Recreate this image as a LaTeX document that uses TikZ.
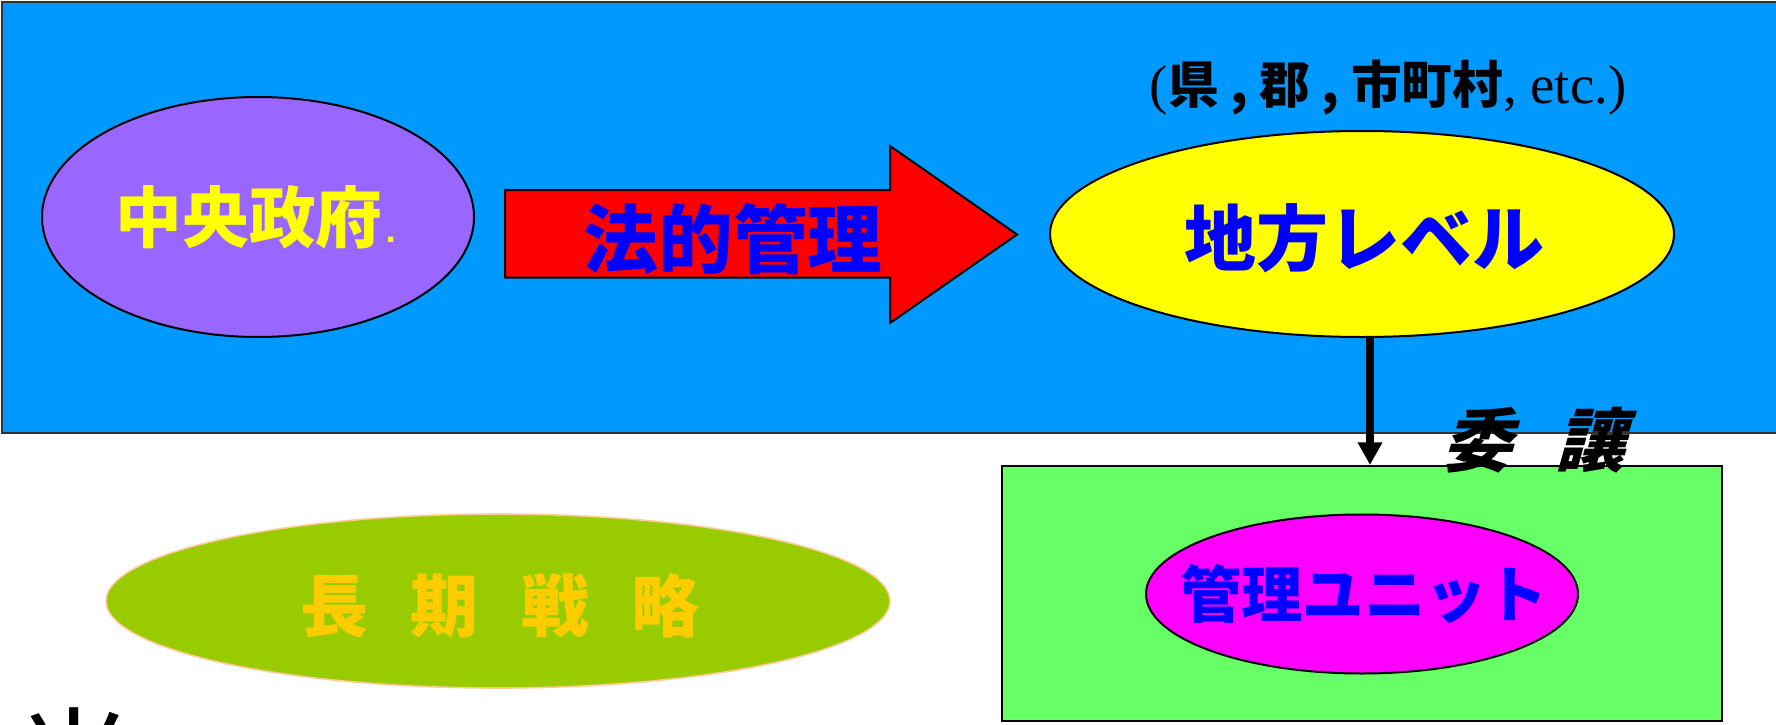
\documentclass[tikz,border=0pt]{standalone}
\usepackage{fontspec}
\setmainfont{Liberation Serif}
\newfontfamily\jp{Noto Sans CJK JP}
\newfontfamily\jpslant{Noto Sans CJK JP}[FakeSlant=0.28]
\usetikzlibrary{shapes.geometric,arrows.meta}
\definecolor{bgblue}{RGB}{0,153,255}
\definecolor{lilac}{RGB}{153,102,255}
\definecolor{lime}{RGB}{102,255,102}
\definecolor{olive2}{RGB}{153,204,0}
\definecolor{gold2}{RGB}{255,204,0}
\definecolor{peach}{RGB}{255,204,153}
\definecolor{yel}{RGB}{255,255,0}
\definecolor{mag}{RGB}{255,0,255}
\definecolor{txtblue}{RGB}{0,0,255}
\definecolor{arred}{RGB}{255,0,0}
\tikzset{
  ell/.style={ellipse, draw=black, line width=1.5pt, inner sep=0pt, outer sep=0pt},
  lbl/.style={inner sep=0pt, outer sep=0pt, font=\jp\bfseries},
}
\begin{document}
\begin{tikzpicture}[x=0.75pt,y=-0.75pt]
\clip (0,0) rectangle (1776,724);
\useasboundingbox (0,0) rectangle (1776,724);
\fill[white] (0,0) rectangle (1776,724);
% background panel
\node[rectangle, fill=bgblue, draw=black!80, line width=1.2pt, minimum width=1333.5pt, minimum height=323.25pt, inner sep=0pt] (panel) at (891,217.5) {};
% central government
\node[ell, fill=lilac, minimum width=324pt, minimum height=180pt] (cg) at (258,217) {};
\node[lbl, text=yel, font=\jp\bfseries\fontsize{50pt}{56pt}\selectfont] (cgt) at (cg.center) {中央政府{\mdseries\sffamily .}};
% legal management arrow
\draw[fill=arred, draw=black, line width=1.5pt, line join=miter]
  (505,190) coordinate (ar1) -- (890,190) -- (890,146) -- (1017,234.5) coordinate (artip) -- (890,323) -- (890,277.5) -- (505,277.5) -- cycle;
\node[lbl, text=txtblue, font=\jp\bfseries\fontsize{56pt}{62pt}\selectfont] (lm) at (733,239) {法的管理};
% local level
\node[ell, fill=yel, minimum width=468pt, minimum height=154.5pt] (loc) at (1362,234) {};
\node[lbl, text=txtblue, font=\jp\bfseries\fontsize{54pt}{60pt}\selectfont] (loct) at (1364,238) {地方レベル};
\node[inner sep=0pt, text=black, font=\fontsize{41pt}{46pt}\selectfont] (sub) at (1388,88) {({\jp\bfseries\fontsize{38pt}{42pt}\selectfont 県 , 郡 , 市町村}, etc.)};
% management unit box
\node[rectangle, fill=lime, draw=black, line width=1.5pt, minimum width=540pt, minimum height=191.25pt, inner sep=0pt] (grn) at (1362,593.5) {};
\node[ell, fill=mag, minimum width=324pt, minimum height=119.25pt] (mu) at (1362,594) {};
\node[lbl, text=txtblue, font=\jp\bfseries\fontsize{46pt}{52pt}\selectfont] (mut) at (1364,594) {管理ユニット};
% delegation arrow
\coordinate (ax) at (1370,0);
\draw[line width=6pt, -{Triangle[length=17pt,width=17.5pt]}] (loc.south -| ax) -- (grn.north -| ax);
\node[inner sep=0pt, text=black, font=\jpslant\bfseries\fontsize{52pt}{58pt}\selectfont] (dlg) at (1534,440) {\spaceskip=33pt\relax 委 讓};
% long-term strategy
\node[ellipse, fill=olive2, draw=peach, line width=1.2pt, inner sep=0pt, minimum width=588pt, minimum height=130.5pt] (lt) at (498,601) {};
\node[lbl, text=gold2, font=\jp\bfseries\fontsize{51pt}{56pt}\selectfont] (ltt) at (500,606) {\spaceskip=32pt\relax 長 期 戦 略};
% cut-off large character at bottom left
\node[inner sep=0pt, anchor=base, text=black, font=\jp\fontsize{90pt}{96pt}\selectfont] (big) at (74,808) {光};
\end{tikzpicture}
\end{document}
